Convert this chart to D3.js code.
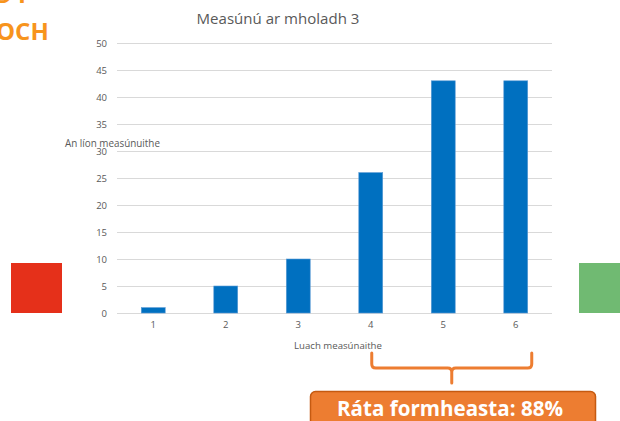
<!DOCTYPE html>
<html><head><meta charset="utf-8">
<script src="https://cdn.jsdelivr.net/npm/d3@7"></script>
<style>html,body{margin:0;padding:0;background:#fff;overflow:hidden}svg{display:block}</style>
</head><body>
<script>
const categories = ["1","2","3","4","5","6"];
const counts = [1,5,10,26,43,43];
const yTicks = [0,5,10,15,20,25,30,35,40,45,50];
const title = "Measúnú ar mholadh 3";
const yLabel = "An líon measúnuithe";
const xLabel = "Luach measúnaithe";
const rateLabel = "Ráta formheasta: 88%";
const approvedCats = ["4","5","6"];

const W = 620, H = 421;
const svg = d3.select("body").append("svg").attr("width", W).attr("height", H);
const font = "'Open Sans', 'Liberation Sans', sans-serif";
const grey = "#595959";

function fitText(sel, target) {
  const w = sel.node().getComputedTextLength();
  const fs = parseFloat(sel.attr("font-size"));
  sel.attr("font-size", (fs * target / w).toFixed(2));
}

// top-left cut-off heading
svg.append("text").attr("x", -2).attr("y", 3).attr("font-family", font).attr("font-weight", 700)
  .attr("font-size", 24).attr("fill", "#F7941D").text("9 I");
svg.append("text").attr("x", -4).attr("y", 40).attr("font-family", font).attr("font-weight", 700)
  .attr("font-size", 24).attr("fill", "#F7941D").text("OCH");

// side squares
svg.append("rect").attr("x", 11).attr("y", 263).attr("width", 51).attr("height", 50).attr("fill", "#E5301A");
svg.append("rect").attr("x", 579).attr("y", 263).attr("width", 45).attr("height", 50).attr("fill", "#70BA72");

const x = d3.scaleBand().domain(categories).range([117, 552]).paddingInner(0.67).paddingOuter(0.335);
const y = d3.scaleLinear().domain([0, 50]).range([313, 43]);

// gridlines
svg.append("g").selectAll("line").data(yTicks).join("line")
  .attr("x1", 117).attr("x2", 552)
  .attr("y1", d => Math.round(y(d)) + 0.5).attr("y2", d => Math.round(y(d)) + 0.5)
  .attr("stroke", "#D9D9D9").attr("stroke-width", 1);

// y axis labels
const yAxis = d3.axisLeft(y).tickValues(yTicks).tickSize(0).tickPadding(10);
const ya = svg.append("g").attr("transform", "translate(117,0)").call(yAxis);
ya.select(".domain").remove();
ya.selectAll("text").attr("font-family", font).attr("font-size", 9.5).attr("fill", grey);

// bars
svg.append("g").selectAll("rect").data(counts).join("rect")
  .attr("x", (d, i) => x(categories[i]))
  .attr("y", d => y(d))
  .attr("width", x.bandwidth())
  .attr("height", d => y(0) - y(d))
  .attr("fill", "#0070C0").attr("stroke", "#5B9BD5").attr("stroke-width", 0.6);

// x axis labels
const xAxis = d3.axisBottom(x).tickSize(0).tickPadding(8);
const xa = svg.append("g").attr("transform", "translate(0,313)").call(xAxis);
xa.select(".domain").remove();
xa.selectAll("text").attr("font-family", font).attr("font-size", 9.5).attr("fill", grey);

// title
const t = svg.append("text").attr("x", 278).attr("y", 24).attr("text-anchor", "middle")
  .attr("font-family", font).attr("font-size", 14).attr("fill", grey).text(title);
fitText(t, 163);

// y label
const yl = svg.append("text").attr("x", 65).attr("y", 147)
  .attr("font-family", font).attr("font-size", 9).attr("fill", grey).text(yLabel);
fitText(yl, 95);

// x label
const xl = svg.append("text").attr("x", 338).attr("y", 349).attr("text-anchor", "middle")
  .attr("font-family", font).attr("font-size", 9).attr("fill", grey).text(xLabel);
fitText(xl, 88);

// brace over approved categories
const bx0 = x(approvedCats[0]) + x.bandwidth() / 2 + 1;
const bx1 = x(approvedCats[approvedCats.length - 1]) + x.bandwidth() / 2 + 16;
const bmid = (bx0 + bx1) / 2;
const by0 = 353, by1 = 368, by2 = 383, r = 4;
const p = d3.path();
p.moveTo(bx0, by0); p.lineTo(bx0, by1 - r); p.quadraticCurveTo(bx0, by1, bx0 + r, by1);
p.lineTo(bmid - r, by1); p.quadraticCurveTo(bmid, by1, bmid, by1 + r); p.lineTo(bmid, by2);
p.moveTo(bmid, by1 + r); p.quadraticCurveTo(bmid, by1, bmid + r, by1);
p.lineTo(bx1 - r, by1); p.quadraticCurveTo(bx1, by1, bx1, by1 - r); p.lineTo(bx1, by0);
svg.append("path").attr("d", p.toString()).attr("fill", "none").attr("stroke", "#ED7D31")
  .attr("stroke-width", 3).attr("stroke-linecap", "round").attr("stroke-linejoin", "round");

// rate box
svg.append("rect").attr("x", 310.5).attr("y", 391.5).attr("width", 285).attr("height", 40).attr("rx", 5)
  .attr("fill", "#ED7D31").attr("stroke", "#C55A11").attr("stroke-width", 1.5);
const rt = svg.append("text").attr("x", 450).attr("y", 416).attr("text-anchor", "middle")
  .attr("font-family", font).attr("font-weight", 700).attr("font-size", 20).attr("fill", "#fff").text(rateLabel);
fitText(rt, 226);
</script>
</body></html>
